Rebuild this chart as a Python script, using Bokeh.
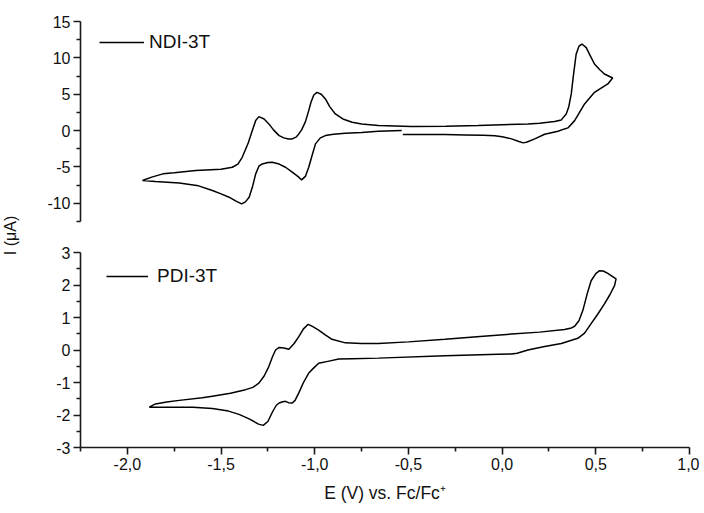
import math
from bokeh.plotting import figure
from bokeh.models import (Range1d, FixedTicker, CustomJSTickFormatter, Legend, LegendItem, Label)
from bokeh.layouts import row, column
from bokeh.embed import file_html
from bokeh.resources import INLINE

# ---------------- data ----------------
ndi_E = [-0.53, -0.40, -0.305, -0.20, -0.10, -0.039, 0.00, 0.05, 0.09, 0.112, 0.13, 0.174, 0.227,
         0.298, 0.333, 0.351, 0.387, 0.44, 0.493, 0.564, 0.59,
         0.546, 0.52, 0.493, 0.47, 0.449, 0.426, 0.41, 0.395, 0.38, 0.369, 0.355, 0.342, 0.316,
         0.28, 0.20, 0.138, 0.0, -0.128, -0.30, -0.483, -0.66, -0.75, -0.80, -0.85, -0.89, -0.92,
         -0.943, -0.965, -0.988, -1.005, -1.02, -1.032, -1.05, -1.07, -1.085, -1.10, -1.12, -1.14,
         -1.165, -1.19, -1.22, -1.245, -1.27, -1.298, -1.315, -1.333, -1.355, -1.387, -1.41, -1.44,
         -1.50, -1.635, -1.75, -1.81, -1.87, -1.919,
         -1.85, -1.723, -1.62, -1.546, -1.50, -1.457, -1.42, -1.39, -1.37, -1.35, -1.333, -1.315,
         -1.298, -1.28, -1.25, -1.227, -1.19, -1.156, -1.12, -1.085, -1.07, -1.05, -1.032, -1.015,
         -0.996, -0.97, -0.943, -0.90, -0.837, -0.75, -0.66, -0.536]
ndi_I = [-0.55, -0.55, -0.55, -0.60, -0.65, -0.72, -0.85, -1.14, -1.50, -1.69, -1.60, -1.14, -0.50,
         -0.10, 0.23, 0.37, 1.37, 3.66, 5.26, 6.41, 7.23,
         7.78, 8.40, 9.16, 10.3, 11.4, 11.9, 11.6, 10.5, 7.5, 5.04, 3.2, 2.29, 1.47,
         1.24, 1.00, 0.92, 0.80, 0.69, 0.60, 0.55, 0.70, 0.90, 1.14, 1.60, 2.29, 3.30,
         4.35, 5.00, 5.26, 4.90, 3.90, 2.75, 1.20, 0.10, -0.46, -0.90, -1.14, -1.15,
         -1.00, -0.69, 0.10, 0.92, 1.60, 1.92, 1.40, 0.0, -1.70, -3.67, -4.60, -5.04,
         -5.30, -5.50, -5.80, -5.95, -6.40, -6.87,
         -7.00, -7.20, -7.60, -8.24, -8.70, -9.16, -9.70, -10.07, -9.80, -9.16, -7.80, -5.95,
         -4.90, -4.58, -4.40, -4.35, -4.60, -5.04, -5.70, -6.41, -6.78, -6.30, -5.04, -3.50,
         -1.83, -1.00, -0.69, -0.50, -0.37, -0.25, -0.10, 0.0]

pdi_E = [-1.883, -1.85, -1.79, -1.723, -1.60, -1.546, -1.45, -1.369, -1.33, -1.298, -1.27, -1.245,
         -1.225, -1.209, -1.19, -1.165, -1.138, -1.11, -1.085, -1.06, -1.035, -1.01, -0.979, -0.94,
         -0.908, -0.837, -0.75, -0.66, -0.50, -0.305, -0.10, 0.05, 0.20, 0.333, 0.37, 0.387, 0.41,
         0.431, 0.455, 0.475, 0.50, 0.52, 0.54, 0.564, 0.608,
         0.60, 0.575, 0.546, 0.51, 0.475, 0.44, 0.404, 0.316, 0.22, 0.138, 0.08, 0.05, -0.021,
         -0.305, -0.66, -0.80, -0.872, -0.93, -0.979, -1.005, -1.032, -1.06, -1.085, -1.105, -1.12,
         -1.14, -1.156, -1.175, -1.19, -1.205, -1.225, -1.25, -1.275, -1.30, -1.35, -1.404, -1.46,
         -1.546, -1.65, -1.723, -1.80, -1.883]
pdi_I = [-1.76, -1.66, -1.60, -1.55, -1.47, -1.42, -1.33, -1.22, -1.15, -1.02, -0.80, -0.51,
         -0.20, 0.0, 0.08, 0.06, 0.02, 0.20, 0.41, 0.65, 0.79, 0.72, 0.61, 0.45,
         0.33, 0.22, 0.20, 0.20, 0.25, 0.33, 0.42, 0.49, 0.55, 0.63, 0.68, 0.73, 0.90,
         1.22, 1.75, 2.13, 2.35, 2.44, 2.43, 2.36, 2.19,
         1.98, 1.70, 1.42, 1.10, 0.81, 0.52, 0.36, 0.20, 0.10, 0.0, -0.10, -0.12, -0.13,
         -0.18, -0.25, -0.27, -0.28, -0.35, -0.41, -0.55, -0.71, -1.00, -1.32, -1.55, -1.63,
         -1.62, -1.58, -1.60, -1.63, -1.70, -1.90, -2.20, -2.32, -2.28, -2.12, -1.98, -1.88,
         -1.80, -1.76, -1.76, -1.76, -1.76]

x_ticks = [-2.0, -1.5, -1.0, -0.5, 0.0, 0.5, 1.0]
x_minor = [-2.25, -1.75, -1.25, -0.75, -0.25, 0.25, 0.75]
top_ticks = [-10, -5, 0, 5, 10, 15]
top_minor = [-12.5, -7.5, -2.5, 2.5, 7.5, 12.5]
bot_ticks = [-3, -2, -1, 0, 1, 2, 3]
bot_minor = [-2.5, -1.5, -0.5, 0.5, 1.5, 2.5]

FONT = "Liberation Sans"
TICK_SIZE = "16px"

x_range = Range1d(-2.25, 1.0)


def style_axis(ax):
    ax.axis_line_width = 1.6
    ax.axis_line_color = "#1a1a1a"
    ax.major_tick_line_width = 1.6
    ax.minor_tick_line_width = 1.6
    ax.major_tick_line_color = "#1a1a1a"
    ax.minor_tick_line_color = "#1a1a1a"
    ax.major_tick_out = 7
    ax.major_tick_in = 0
    ax.minor_tick_out = 4
    ax.minor_tick_in = 0
    ax.major_label_text_font = FONT
    ax.major_label_text_font_size = TICK_SIZE
    ax.major_label_text_color = "#111111"
    ax.major_label_standoff = 3


y_fmt = "return tick.toString();"

# ---------------- top panel ----------------
p1 = figure(width=659, height=236, x_range=x_range, y_range=Range1d(-12.5, 15),
            x_axis_type=None, output_backend="svg", toolbar_location=None,
            min_border_left=40, min_border_right=10, min_border_top=21, min_border_bottom=15)
p1.outline_line_color = None
p1.grid.visible = False
p1.yaxis.ticker = FixedTicker(ticks=top_ticks, minor_ticks=top_minor)
p1.yaxis.formatter = CustomJSTickFormatter(code=y_fmt)
style_axis(p1.yaxis[0])
r1 = p1.line(ndi_E, ndi_I, line_color="black", line_width=1.5)
leg1 = Legend(items=[LegendItem(label="NDI-3T", renderers=[r1])], location=(19, 168),
              glyph_width=45, label_standoff=5, padding=0, margin=0,
              border_line_color=None, background_fill_alpha=0,
              label_text_font=FONT, label_text_font_size="19px", label_text_color="#111111")
p1.add_layout(leg1)

# ---------------- bottom panel ----------------
p2 = figure(width=659, height=269, x_range=x_range, y_range=Range1d(-3, 3),
            output_backend="svg", toolbar_location=None,
            min_border_left=40, min_border_right=10, min_border_top=16, min_border_bottom=56)
p2.outline_line_color = None
p2.grid.visible = False
p2.yaxis.ticker = FixedTicker(ticks=bot_ticks, minor_ticks=bot_minor)
p2.yaxis.formatter = CustomJSTickFormatter(code=y_fmt)
p2.xaxis.ticker = FixedTicker(ticks=x_ticks, minor_ticks=x_minor)
p2.xaxis.formatter = CustomJSTickFormatter(code="return tick.toFixed(1).replace('.', ',');")
style_axis(p2.yaxis[0])
style_axis(p2.xaxis[0])
p2.xaxis.axis_label = "E (V) vs. Fc/Fc\u207a"
p2.xaxis.axis_label_text_font = FONT
p2.xaxis.axis_label_text_font_size = "17.5px"
p2.xaxis.axis_label_text_font_style = "normal"
p2.xaxis.axis_label_text_color = "#111111"
p2.xaxis.axis_label_standoff = 10
r2 = p2.line(pdi_E, pdi_I, line_color="black", line_width=1.5)
leg2 = Legend(items=[LegendItem(label="PDI-3T", renderers=[r2])], location=(26, 160),
              glyph_width=42, label_standoff=9, padding=0, margin=0,
              border_line_color=None, background_fill_alpha=0,
              label_text_font=FONT, label_text_font_size="19px", label_text_color="#111111")
p2.add_layout(leg2)

# ---------------- y label strip ----------------
pl = figure(width=40, height=505, x_range=Range1d(0, 40), y_range=Range1d(0, 505),
            x_axis_type=None, y_axis_type=None, output_backend="svg", toolbar_location=None,
            min_border=0)
pl.outline_line_color = None
pl.grid.visible = False
pl.add_layout(Label(x=10, y=505 - 235, text="I (\u03bcA)", angle=math.pi / 2,
                    text_align="center", text_baseline="middle",
                    text_font=FONT, text_font_size="16px", text_color="#111111"))

layout = row(pl, column(p1, p2))

html = file_html(layout, INLINE)
open("out.html", "w").write(html)
